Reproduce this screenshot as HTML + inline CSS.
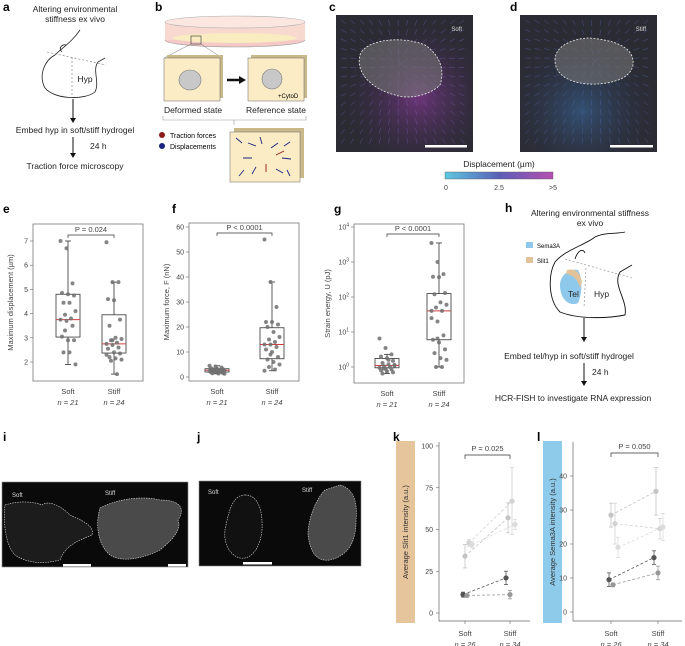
<!DOCTYPE html>
<html><head><meta charset="utf-8"><style>
html,body{margin:0;padding:0;background:#fff;}
svg{display:block;font-family:"Liberation Sans",sans-serif;}
.pl{font-weight:bold;font-size:12px;}
.t{font-size:8.5px;fill:#222;}
.tk{font-size:7px;fill:#444;}
</style></head><body>
<svg id="fig" width="685" height="646" viewBox="0 0 685 646" xmlns="http://www.w3.org/2000/svg">
<defs>
<linearGradient id="cbar" x1="0" x2="1"><stop offset="0" stop-color="#5ec8e0"/><stop offset="0.5" stop-color="#5a5fb8"/><stop offset="1" stop-color="#b54fb0"/></linearGradient>
<radialGradient id="glowc" cx="0.6" cy="0.6" r="0.6"><stop offset="0" stop-color="#8a3a9a" stop-opacity="0.7"/><stop offset="1" stop-color="#2a2a3a" stop-opacity="0"/></radialGradient>
<radialGradient id="glowd" cx="0.45" cy="0.7" r="0.6"><stop offset="0" stop-color="#3a6aa0" stop-opacity="0.6"/><stop offset="1" stop-color="#2a2a3a" stop-opacity="0"/></radialGradient>
</defs>

<g>
<text class="pl" x="3" y="11">a</text><text class="pl" x="155" y="11">b</text><text class="pl" x="329" y="11">c</text><text class="pl" x="510" y="11">d</text>
<text class="pl" x="3" y="213">e</text><text class="pl" x="172" y="213">f</text><text class="pl" x="334" y="213">g</text><text class="pl" x="505" y="212">h</text>
<text class="pl" x="3" y="441">i</text><text class="pl" x="197" y="441">j</text><text class="pl" x="393" y="441">k</text><text class="pl" x="537" y="441">l</text>
</g>

<g>
<text class="t" x="75" y="12" text-anchor="middle">Altering environmental</text>
<text class="t" x="75" y="22" text-anchor="middle">stiffness ex vivo</text>
<path d="M55 55 C45 60 38 75 45 88 C55 100 85 100 95 92 C100 82 92 70 98 62 L105 58 M55 55 C62 48 72 42 80 30 M62 52 C58 48 62 44 66 45" fill="none" stroke="#222" stroke-width="0.8"/>
<path d="M47 52 L106 65 M72 57 L72 97" fill="none" stroke="#777" stroke-width="0.6" stroke-dasharray="2,2"/>
<text class="t" x="85" y="82" text-anchor="middle">Hyp</text>
<line x1="73" y1="99" x2="73" y2="120" stroke="#111" stroke-width="1"/><path d="M70 118 L73 123 L76 118Z" fill="#111"/>
<text class="t" x="75" y="133" text-anchor="middle">Embed hyp in soft/stiff hydrogel</text>
<line x1="73" y1="137" x2="73" y2="155" stroke="#111" stroke-width="1"/><path d="M70 153 L73 158 L76 153Z" fill="#111"/>
<text class="t" x="90" y="149">24 h</text>
<text class="t" x="75" y="169" text-anchor="middle">Traction force microscopy</text>
</g>

<g>
<ellipse cx="235" cy="40" rx="70" ry="7" fill="#f4c9c6" stroke="#999" stroke-width="0.6"/>
<rect x="165" y="22" width="140" height="18" fill="#f7d9d0"/>
<ellipse cx="235" cy="22" rx="70" ry="6" fill="#fbe6e0" stroke="#aaa" stroke-width="0.6"/>
<ellipse cx="235" cy="38" rx="62" ry="5" fill="#f8ecc0"/>
<rect x="191" y="36" width="10" height="8" fill="none" stroke="#333" stroke-width="0.6"/>
<path d="M191 44 L164 58 M201 44 L222 58" stroke="#555" stroke-width="0.4"/>
<rect x="167" y="55" width="56" height="43" fill="#c9b98a"/><rect x="164" y="58" width="56" height="43" fill="#fbecc6" stroke="#666" stroke-width="0.5"/>
<ellipse cx="190" cy="80" rx="11" ry="10" fill="#c8c8c8" stroke="#777" stroke-width="0.6"/>
<path d="M227 80 L240 80" stroke="#111" stroke-width="2.5"/><path d="M239 76 L246 80 L239 84Z" fill="#111"/>
<rect x="251" y="55" width="56" height="43" fill="#c9b98a"/><rect x="248" y="58" width="56" height="43" fill="#fbecc6" stroke="#666" stroke-width="0.5"/>
<ellipse cx="272" cy="79" rx="10" ry="10" fill="#c8c8c8" stroke="#777" stroke-width="0.6"/>
<text x="278" y="98" style="font-size:6px">+CytoD</text>
<text class="t" x="193" y="113" text-anchor="middle">Deformed state</text>
<text class="t" x="276" y="113" text-anchor="middle">Reference state</text>
<path d="M163 116 L163 120 L306 120 L306 116 M234 120 L234 125" fill="none" stroke="#999" stroke-width="0.6"/>
<circle cx="162" cy="135" r="3" fill="#8b1a1a"/><text x="170" y="138" style="font-size:7px">Traction forces</text>
<circle cx="162" cy="146" r="3" fill="#1a237e"/><text x="170" y="149" style="font-size:7px">Displacements</text>
<rect x="234" y="128" width="70" height="50" fill="#c9b98a"/><rect x="230" y="132" width="70" height="50" fill="#fbecc6" stroke="#666" stroke-width="0.5"/>
<g stroke="#1a237e" stroke-width="0.9"><path d="M236 138 L242 143 M248 143 L256 146 M260 137 L262 144 M278 143 L271 148 M290 142 L284 146 M243 158 L252 158 M282 158 L291 159 M239 176 L244 170 M252 174 L256 167 M276 169 L283 173 M290 176 L287 170"/></g>
<g stroke="#8b1a1a" stroke-width="0.9"><path d="M266 172 L266 164 M284 151 L276 155"/></g>
</g>

<g>
<rect x="336" y="15" width="137" height="137" fill="#2b2b33"/>
<rect x="336" y="15" width="137" height="137" fill="url(#glowc)"/>
<g id="vecc" stroke="#7a6ad0" stroke-width="0.5" stroke-opacity="0.55"></g>
<path d="M360 55 C365 40 400 35 425 45 C440 55 445 70 440 85 C430 95 410 100 395 95 C375 90 355 75 360 55Z" fill="#7a7a7a" fill-opacity="0.55" stroke="#eee" stroke-width="0.8" stroke-dasharray="2,1.5"/>
<text x="462" y="31" text-anchor="end" style="font-size:6px;fill:#ddd">Soft</text>
<rect x="425" y="145" width="42" height="2.5" fill="#fff"/>
</g>
<g>
<rect x="520" y="15" width="137" height="137" fill="#2b2b33"/>
<rect x="520" y="15" width="137" height="137" fill="url(#glowd)"/>
<g id="vecd" stroke="#5a7ad0" stroke-width="0.5" stroke-opacity="0.5"></g>
<path d="M555 60 C555 45 575 38 590 38 C610 40 635 45 633 65 C630 80 610 83 598 84 C580 85 555 80 555 60Z" fill="#7a7a7a" fill-opacity="0.55" stroke="#eee" stroke-width="0.8" stroke-dasharray="2,1.5"/>
<text x="646" y="31" text-anchor="end" style="font-size:6px;fill:#ddd">Stiff</text>
<rect x="610" y="145" width="43" height="2.5" fill="#fff"/>
</g>
<g>
<text class="t" x="499" y="167" text-anchor="middle">Displacement (µm)</text>
<rect x="445" y="172" width="108" height="7" fill="url(#cbar)" stroke="#555" stroke-width="0.4"/>
<text class="tk" x="446" y="190" text-anchor="middle">0</text><text class="tk" x="499" y="190" text-anchor="middle">2.5</text><text class="tk" x="553" y="190" text-anchor="middle">&gt;5</text>
</g>

<g>
<text class="t" x="590" y="216" text-anchor="middle">Altering environmental stiffness</text>
<text class="t" x="590" y="226" text-anchor="middle">ex vivo</text>
<path d="M555 262 C548 275 548 300 560 312 C580 320 610 318 625 315 C628 300 612 285 620 272 L632 265 M555 262 C565 250 585 245 595 237 C605 232 618 234 625 232 M575 259 C578 250 583 248 585 253" fill="none" stroke="#111" stroke-width="0.9"/>
<path d="M565 259 L632 278 M586 268 L584 308" stroke="#888" stroke-width="0.6" stroke-dasharray="2,2" fill="none"/>
<path d="M560 285 C560 275 570 268 578 270 C583 278 582 295 578 303 C570 307 560 300 560 285Z" fill="#8ec8ea"/>
<path d="M567 270 C575 268 580 272 582 282 L580 288 C578 280 574 275 566 274Z" fill="#e2c29a"/>
<text class="t" x="568" y="297">Tel</text><text class="t" x="594" y="297">Hyp</text>
<rect x="526" y="242" width="7" height="6" fill="#8ec8ea"/><text x="537" y="248" style="font-size:6px">Sema3A</text>
<rect x="526" y="257" width="7" height="6" fill="#e2c29a"/><text x="537" y="263" style="font-size:6px">Slit1</text>
<line x1="584" y1="318" x2="584" y2="339" stroke="#111" stroke-width="1"/><path d="M581 337 L584 342 L587 337Z" fill="#111"/>
<text class="t" x="569" y="359" text-anchor="middle">Embed tel/hyp in soft/stiff hydrogel</text>
<line x1="584" y1="363" x2="584" y2="383" stroke="#111" stroke-width="1"/><path d="M581 381 L584 386 L587 381Z" fill="#111"/>
<text class="t" x="592" y="375">24 h</text>
<text class="t" x="573" y="401" text-anchor="middle">HCR-FISH to investigate RNA expression</text>
</g>

<g>
<rect x="2" y="482" width="186" height="85" fill="#0a0a0a" stroke="#888" stroke-width="0.6"/>
<path d="M5 505 C20 500 35 502 42 505 C48 500 60 505 70 515 C80 520 95 525 92 535 C80 540 65 545 60 560 C40 565 25 562 15 555 C5 545 3 520 5 505Z" fill="#1c1c1c" stroke="#ddd" stroke-width="0.6" stroke-dasharray="1.5,1"/>
<path d="M100 508 C115 500 140 495 160 500 C182 500 185 510 178 520 C182 530 172 540 160 550 C140 560 120 562 110 555 C98 545 95 525 100 508Z" fill="#4a4a4a" stroke="#ddd" stroke-width="0.6" stroke-dasharray="1.5,1"/>
<text x="12" y="497" style="font-size:6px;fill:#ddd">Soft</text><text x="105" y="495" style="font-size:6px;fill:#ddd">Stiff</text>
<rect x="63" y="564" width="28" height="2.5" fill="#fff"/><rect x="168" y="564" width="18" height="2.5" fill="#fff"/>
</g>
<g>
<rect x="199" y="481" width="162" height="85" fill="#0a0a0a" stroke="#888" stroke-width="0.6"/>
<path d="M245 495 C258 495 263 510 262 530 C260 550 250 560 240 558 C228 555 222 540 226 525 C230 505 235 495 245 495Z" fill="#111" stroke="#ddd" stroke-width="0.6" stroke-dasharray="1.5,1"/>
<path d="M340 485 C352 488 358 500 356 520 C356 540 350 555 330 560 C315 562 310 550 308 535 C308 520 315 500 325 490 Z" fill="#4a4a4a" stroke="#ddd" stroke-width="0.6" stroke-dasharray="1.5,1"/>
<text x="208" y="494" style="font-size:6px;fill:#ddd">Soft</text><text x="302" y="492" style="font-size:6px;fill:#ddd">Stiff</text>
<rect x="243" y="562" width="29" height="2.5" fill="#fff"/>
</g>

<g id="charts"></g>
</svg>
<script>
// ---- data ----
const groups = ["Soft","Stiff"];
const nE = ["n = 21","n = 24"];
const nK = ["n = 26","n = 34"];
const dispSoft = [7.0,6.7,5.25,4.85,4.8,4.75,4.45,4.45,4.1,3.95,3.8,3.75,3.7,3.5,3.05,2.9,2.9,2.4,2.4,1.9,3.3];
const dispStiff = [6.95,5.3,5.3,4.6,4.55,3.75,3.5,3.0,2.95,2.9,2.8,2.75,2.7,2.6,2.55,2.4,2.35,2.2,2.15,2.1,2.05,1.5,2.3,2.9];
const dispBox = [[1.9,3.03,3.75,4.8,7.0],[1.5,2.37,2.75,3.95,5.3]];
const forceSoft = [4.5,4.2,3.8,3.5,3.3,3.1,3.0,2.8,2.7,2.6,2.5,2.4,2.2,2.0,1.9,1.8,1.6,1.5,1.4,1.3,2.9];
const forceStiff = [55,38,28,22,22,21,20,18,16,15,14,13,13,12,11,10,8,7,6,5,4,3,2.5,9];
const forceBox = [[1.3,2.0,2.7,3.3,4.5],[2.5,7.3,13,19.7,38]];
const energySoft = [6.5,3.5,2.3,2.0,1.8,1.5,1.3,1.2,1.1,1.05,1.0,0.95,0.9,0.85,0.8,0.75,0.7,0.65,1.6,1.15,0.9];
const energyStiff = [3500,1000,450,380,370,130,120,70,60,50,40,25,20,8,6,5,3.2,2.5,1.8,1.6,1.0,1.0,40,6.5];
const energyBox = [[0.65,0.95,1.1,1.75,2.3],[1.0,6.0,40,125,3500]];
const dispTicks = [2,3,4,5,6,7];
const forceTicks = [0,10,20,30,40,50,60];
const energyTicks = [0,1,2,3,4];
const slit1Soft = [34,42,41,11,10.5];
const slit1SoftErr = [7,2,2,1.5,1];
const slit1Stiff = [57,67,53,21,11];
const slit1StiffErr = [9,20,3,4,2.5];
const slit1Ticks = [0,25,50,75,100];
const semaSoft = [28.5,26,19,9.5,8];
const semaSoftErr = [3.5,6,3,2,0.5];
const semaStiff = [35.5,24.5,25,16,11.5];
const semaStiffErr = [7,3,4,2,2];
const semaTicks = [0,10,20,30,40];
const seriesShade = ["#c4c4c4","#d2d2d2","#dcdcdc","#555555","#999999"];
const pK = "P = 0.025", pL = "P = 0.050";

const NS="http://www.w3.org/2000/svg";
const root=document.getElementById('charts');
function mk(tag,attrs,parent,txt){const e=document.createElementNS(NS,tag);for(const k in attrs)e.setAttribute(k,attrs[k]);if(txt!==undefined)e.textContent=txt;(parent||root).appendChild(e);return e;}

// decorative displacement vector texture in c/d
function vecs(id,x0,y0,cx,cy){
  const g=document.getElementById(id);
  for(let i=0;i<14;i++)for(let j=0;j<14;j++){
    const x=x0+5+i*9.5,y=y0+5+j*9.5;const dx=cx-x,dy=cy-y;const d=Math.hypot(dx,dy)||1;
    mk('line',{x1:x,y1:y,x2:x+dx/d*6,y2:y+dy/d*6},g);
  }
}
vecs('vecc',336,15,400,65);
vecs('vecd',520,15,594,60);

function boxChart(name,o){
  const g=mk('g',{});
  
  
  mk('rect',{x:o.l,y:o.t,width:o.r-o.l,height:o.b-o.t,fill:'none',stroke:'#666','stroke-width':0.7},g);
  o.ticks.forEach(v=>{const y=o.y(v);mk('line',{x1:o.l-3,x2:o.l,y1:y,y2:y,stroke:'#666','stroke-width':0.6},g);
    if(o.log){const t=mk('text',{x:o.l-5,y:y+2.5,'text-anchor':'end',class:'tk'},g);
      mk('tspan',{},t,'10');mk('tspan',{dy:-3,style:'font-size:5px'},t,String(Math.round(Math.log10(v))));}
    else mk('text',{x:o.l-5,y:y+2.5,'text-anchor':'end',class:'tk'},g,v);});
  mk('text',{transform:`translate(${o.l-(o.log?24:20)},${(o.t+o.b)/2}) rotate(-90)`,'text-anchor':'middle',class:'tk',style:'font-size:7.5px'},g,o.title);
  [0,1].forEach(i=>{
    const cx=o.xs[i], bx=o.box[i], w=12;
    mk('line',{x1:cx,x2:cx,y1:o.y(bx[0]),y2:o.y(bx[4]),stroke:'#333','stroke-width':0.8},g);
    [bx[0],bx[4]].forEach(v=>mk('line',{x1:cx-3,x2:cx+3,y1:o.y(v),y2:o.y(v),stroke:'#333','stroke-width':0.8},g));
    mk('rect',{x:cx-w,y:o.y(bx[3]),width:2*w,height:o.y(bx[1])-o.y(bx[3]),fill:'#fff',stroke:'#333','stroke-width':0.8},g);
    mk('line',{x1:cx-w,x2:cx+w,y1:o.y(bx[2]),y2:o.y(bx[2]),stroke:'#d04040','stroke-width':1},g);
    o.pts[i].forEach((v,j)=>{const jit=((j*37)%11-5)*1.5;const c=mk('circle',{cx:cx+jit,cy:o.y(v),r:2,fill:'#707070','fill-opacity':0.85},g);
      
      });
    mk('text',{x:cx,y:o.b+13,'text-anchor':'middle',class:'tk',style:'font-size:7.5px'},g,groups[i]);
    mk('text',{x:cx,y:o.b+24,'text-anchor':'middle',class:'tk',style:'font-size:7.5px;font-style:italic'},g,o.n[i]);
  });
  mk('path',{d:`M${o.xs[0]} ${o.br+3} L${o.xs[0]} ${o.br} L${o.xs[1]} ${o.br} L${o.xs[1]} ${o.br+3}`,fill:'none',stroke:'#333','stroke-width':0.7},g);
  mk('text',{x:(o.xs[0]+o.xs[1])/2,y:o.br-3,'text-anchor':'middle',class:'tk',style:'font-size:7.5px'},g,o.p);
}
boxChart('displacement-boxplot',{l:33,r:143,t:224,b:381,y:v=>362-(v-2)*24.2,ticks:dispTicks,title:'Maximum displacement (µm)',xs:[68,114],box:dispBox,pts:[dispSoft,dispStiff],n:nE,br:235,p:'P = 0.024'});
boxChart('force-boxplot',{l:189,r:299,t:223,b:381,y:v=>377-v*2.5,ticks:forceTicks,title:'Maximum force, F (nN)',xs:[217,272],box:forceBox,pts:[forceSoft,forceStiff],n:nE,br:233,p:'P < 0.0001'});
boxChart('energy-boxplot',{l:354,r:464,t:224,b:383,log:true,y:v=>367-Math.log10(v)*35,ticks:energyTicks.map(e=>Math.pow(10,e)),title:'Strain energy, U (pJ)',xs:[387,439],box:energyBox,pts:[energySoft,energyStiff],n:nE,br:234,p:'P < 0.0001'});

function pairChart(name,o){
  const g=mk('g',{});
  
  
  mk('rect',{x:o.bx,y:441,width:19,height:182,fill:o.bcol},g);
  mk('text',{transform:`translate(${o.bx+12},532) rotate(-90)`,'text-anchor':'middle',class:'tk',style:'font-size:7.5px;fill:#333'},g,o.title);
  mk('path',{d:`M${o.l} ${o.t} L${o.l} ${o.b} L${o.r} ${o.b}`,fill:'none',stroke:'#666','stroke-width':0.7},g);
  o.ticks.forEach(v=>{const y=o.y(v);mk('line',{x1:o.l-3,x2:o.l,y1:y,y2:y,stroke:'#666','stroke-width':0.6},g);
    mk('text',{x:o.l-6,y:y+2.5,'text-anchor':'end',class:'tk'},g,v);});
  o.xs.forEach((x,i)=>{mk('line',{x1:x,x2:x,y1:o.b,y2:o.b+3,stroke:'#666','stroke-width':0.6},g);
    mk('text',{x:x,y:o.b+15,'text-anchor':'middle',class:'tk',style:'font-size:7.5px'},g,groups[i]);
    mk('text',{x:x,y:o.b+26,'text-anchor':'middle',class:'tk',style:'font-size:7.5px;font-style:italic'},g,nK[i]);});
  o.soft.forEach((s,i)=>{
    const off=[0,4,7,-2,2][i];
    const x0=o.xs[0]+off,x1=o.xs[1]+off-2, col=seriesShade[i];
    mk('line',{x1:x0,y1:o.y(s),x2:x1,y2:o.y(o.stiff[i]),stroke:col,'stroke-width':0.8,'stroke-dasharray':'3,2'},g);
    [[x0,s,o.se[i]],[x1,o.stiff[i],o.te[i]]].forEach(([x,v,e])=>{
      mk('line',{x1:x,x2:x,y1:o.y(v-e),y2:o.y(v+e),stroke:col,'stroke-width':0.8},g);
      [v-e,v+e].forEach(q=>mk('line',{x1:x-2,x2:x+2,y1:o.y(q),y2:o.y(q),stroke:col,'stroke-width':0.8},g));
      const c=mk('circle',{cx:x,cy:o.y(v),r:2.6,fill:col},g);
      
      
    });
  });
  mk('path',{d:`M${o.xs[0]} ${o.br+4} L${o.xs[0]} ${o.br} L${o.xs[1]} ${o.br} L${o.xs[1]} ${o.br+4}`,fill:'none',stroke:'#333','stroke-width':0.7},g);
  mk('text',{x:(o.xs[0]+o.xs[1])/2,y:o.br-4,'text-anchor':'middle',class:'tk',style:'font-size:7.5px'},g,o.p);
}
pairChart('slit1-chart',{bx:396,bcol:'#e6c49c',l:439,r:530,t:442,b:621,y:v=>613-v*1.67,ticks:slit1Ticks,title:'Average Slit1 intensity (a.u.)',xs:[465,510],soft:slit1Soft,se:slit1SoftErr,stiff:slit1Stiff,te:slit1StiffErr,br:455,p:pK});
pairChart('sema3a-chart',{bx:543,bcol:'#8ecbea',l:573,r:682,t:442,b:621,y:v=>612-v*3.4,ticks:semaTicks,title:'Average Sema3A intensity (a.u.)',xs:[611,658],soft:semaSoft,se:semaSoftErr,stiff:semaStiff,te:semaStiffErr,br:453,p:pL});
</script>
</body></html>
